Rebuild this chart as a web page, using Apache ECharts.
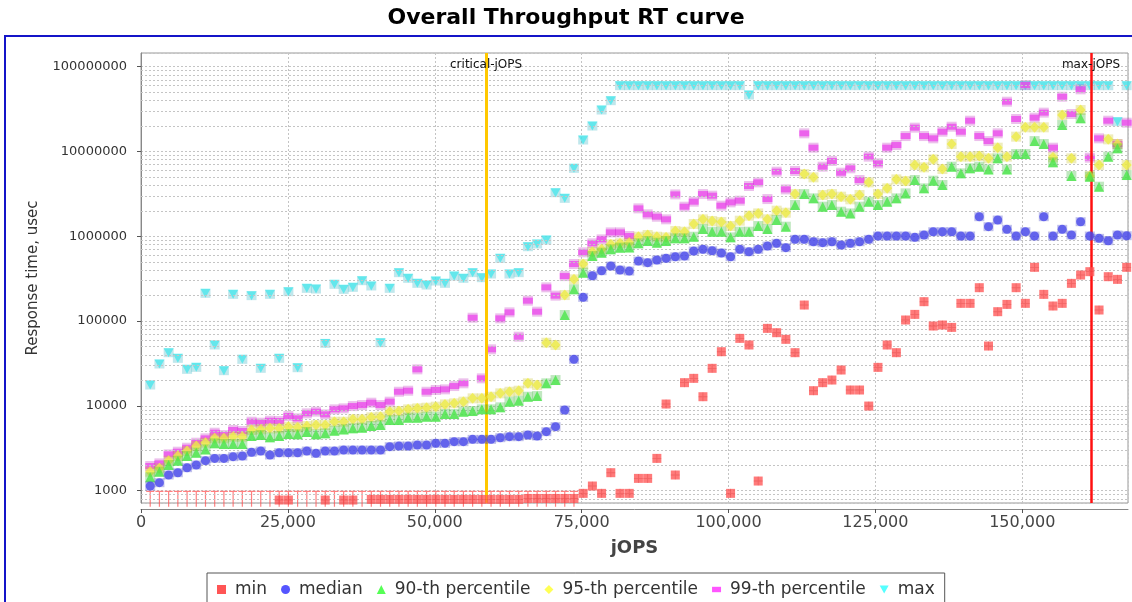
<!DOCTYPE html>
<html><head><meta charset="utf-8">
<script src="https://cdn.jsdelivr.net/npm/echarts@6/dist/echarts.min.js"></script>
<style>html,body{margin:0;padding:0;background:#fff}#c{width:1132px;height:602px}</style>
</head><body><div id="c"></div>
<script>
const jops = [1568,3136,4704,6272,7840,9408,10976,12544,14112,15680,
 17248,18816,20384,21952,23520,25088,26656,28224,29792,31360,
 32928,34496,36064,37632,39200,40768,42336,43904,45472,47040,
 48608,50176,51744,53312,54880,56448,58016,59584,61152,62720,
 64288,65856,67424,68992,70560,72128,73696,75264,76832,78400,
 79968,81536,83104,84672,86240,87808,89376,90944,92512,94080,
 95648,97216,98784,100352,101920,103488,105056,106624,108192,109760,
 111328,112896,114464,116032,117600,119168,120736,122304,123872,125440,
 127008,128576,130144,131712,133280,134848,136416,137984,139552,141120,
 142688,144256,145824,147392,148960,150528,152096,153664,155232,156800,
 158368,159936,161504,163072,164640,166208,167776];

const minRT = [null,null,null,null,null,null,null,null,null,null,
 null,null,null,null,776,776,null,null,null,776,
 null,776,776,null,790,790,790,790,790,790,
 790,790,790,790,790,790,790,790,790,790,
 790,810,810,810,810,810,810,930,1135,930,
 1630,930,930,1397,1397,2405,10520,1531,18790,21130,
 12830,27730,43550,930,62560,52240,1300,82070,72970,60950,
 42410,154600,15110,18790,20180,26490,15390,15390,9954,28470,
 52240,42410,103000,120000,169400,87500,89900,84300,161900,161900,
 247700,50800,129100,157400,247700,161900,430500,206600,150600,161900,
 278600,349100,382600,135100,334000,310500,430500];

const medianRT = [1135,1243,1531,1630,1867,2009,2259,2405,2405,2518,
 2564,2832,2936,2634,2806,2806,2806,2936,2755,2936,
 2936,3017,3017,3017,3017,3017,3303,3364,3364,3456,
 3456,3616,3616,3785,3785,4029,4029,4029,4217,4334,
 4334,4531,4415,4966,5688,8933,35400,190500,342800,392700,
 445700,400000,389000,510500,488700,524800,549500,574100,584800,669900,
 701500,676100,635300,574100,701500,657700,701500,767400,826000,734500,
 920000,920000,863000,841000,863000,788900,826000,863000,920000,1007000,
 1007000,1007000,1007000,971000,1035000,1132000,1132000,1132000,1007000,1007000,
 1702000,1298000,1556000,1208000,1007000,1132000,1007000,1702000,1007000,1208000,
 1035000,1486000,1007000,946000,887000,1035000,1016000];

const p90RT = [1437,1675,2009,2259,2564,2806,3070,3616,3548,3548,
 3548,4415,4531,4256,4415,4660,4616,4920,4616,4742,
 5105,5285,5433,5534,5794,5943,6808,6808,7261,7261,
 7464,7464,8017,8017,8551,8690,9100,9100,9616,11220,
 11510,12830,13070,18450,20180,118000,236600,372400,584800,641200,
 701500,734500,739600,826000,879000,841000,879000,946000,946000,988500,
 1219000,1132000,1132000,971000,1132000,1132000,1321000,1219000,1556000,1298000,
 2339000,3148000,2800000,2234000,2339000,1950000,1862000,2234000,2559000,2339000,
 2559000,2800000,3206000,4613000,3673000,4527000,4025000,6622000,5521000,6324000,
 6622000,6152000,8299000,6152000,9333000,9333000,13270000,12250000,7447000,20510000,
 5140000,24600000,5046000,3846000,8690000,10890000,5273000];

const p95RT = [1675,1834,2259,2564,2936,3364,3682,4141,4141,4334,
 4334,5193,5285,5433,5433,5688,5585,5794,5943,5943,
 6512,6512,6937,6937,7326,7464,8551,8690,9100,9354,
 9528,9795,10420,10720,11220,12270,12270,12830,14060,14690,
 15110,18450,17620,55590,52240,202800,310500,471000,657700,701500,
 803500,826000,841000,988500,1035000,988500,971000,1153000,1132000,1396000,
 1585000,1514000,1472000,1321000,1528000,1750000,1862000,1585000,2004000,1897000,
 3148000,5420000,4955000,3069000,3148000,2931000,2729000,3069000,4325000,3148000,
 3673000,4690000,4484000,6924000,6501000,8072000,6209000,12250000,8690000,8690000,
 8851000,8299000,11090000,8690000,14960000,19270000,19270000,19270000,8531000,26920000,
 8299000,30830000,5140000,6924000,13900000,12250000,6924000];

const p99RT = [1954,2100,2681,2884,3214,3682,4141,4831,4531,5193,
 5058,6512,6339,6683,6637,7590,7129,8166,8551,7943,
 9100,9354,9954,10230,10910,10230,11220,14690,15110,26970,
 14690,15390,15670,17140,18450,109600,21130,46450,107700,126800,
 65460,174100,129100,250000,199500,339600,471000,647100,826000,920000,
 1112000,1112000,1007000,2134000,1815000,1702000,1585000,3119000,2234000,2559000,
 3148000,3013000,2296000,2512000,2630000,3917000,4325000,2748000,5781000,3573000,
 5888000,16370000,11090000,6622000,7727000,5623000,6324000,4613000,8690000,7244000,
 11090000,11910000,15210000,19100000,15210000,14290000,17100000,19590000,17100000,23070000,
 15210000,13270000,16370000,38650000,24150000,60810000,25060000,28710000,11090000,44260000,
 27670000,54050000,8453000,14290000,23070000,12250000,21860000];

const maxRT = [17620,31180,42410,36370,26970,28470,212400,52240,26020,206600,
 35400,199500,27730,206600,36370,222300,28200,243200,238800,54600,
 271000,236600,250000,299500,259300,55590,243200,372400,319100,278600,
 266100,296700,278600,339600,319100,372400,325100,358900,549500,358900,
 372400,753600,810900,903600,3266000,2800000,6324000,13650000,19950000,30830000,
 39720000,59700000,59700000,59700000,59700000,59700000,59700000,59700000,59700000,59700000,
 59700000,59700000,59700000,59700000,59700000,46340000,59700000,59700000,59700000,59700000,
 59700000,59700000,59700000,59700000,59700000,59700000,59700000,59700000,59700000,59700000,
 59700000,59700000,59700000,59700000,59700000,59700000,59700000,59700000,59700000,59700000,
 59700000,59700000,59700000,59700000,59700000,59700000,59700000,59700000,59700000,59700000,
 59700000,59700000,59700000,59700000,59700000,22440000,59700000];

// points whose min response time lies below the axis floor (drawn as floor marks)
const minFloorCount = 47;
const minFloor = 1000;

const criticalJops = 58740;
const maxJops = 161700;

const seriesNames = ['min','median','90-th percentile','95-th percentile','99-th percentile','max'];
const seriesColors = ['#ff5555','#5555ff','#55ff55','#ffff55','#ff55ff','#55ffff'];
const barColors = ['#d03030','#3030c0','#30b030','#c8c020','#c030c0','#30b0c0'];

const FONT = 'DejaVu Sans';
const RECT_FLAT = 'path://M0,0H10V6H0Z';
const TRI_DOWN = 'path://M0,0H10L5,9Z';
const T_MARK = 'path://M0,0H8V1.5H4.6V20H3.4V1.5H0Z';
const VBAR = 'path://M4.5,0H5.5V10H4.5Z';
const PLUS = 'path://M4.5,0H5.5V4.5H10V5.5H5.5V10H4.5V5.5H0V4.5H4.5Z';

function pts(arr){ const out=[]; arr.forEach((v,i)=>{ if(v!=null) out.push([jops[i], v]); }); return out; }

const minorGrid = [];
for (let e = 2; e <= 8; e++) for (let m = 2; m <= 9; m++) {
  const v = m * Math.pow(10, e);
  if (v > 716 && v < 145000000) minorGrid.push({yAxis: v});
}

const chart = echarts.init(document.getElementById('c'), null, {renderer:'canvas'});
const scatterBase = (name, idx, arr, symbol, size, z) => ({
  name, type:'scatter', data: pts(arr), symbol, symbolSize: size, symbolKeepAspect:false,
  itemStyle:{color: seriesColors[idx], opacity:0.78}, z, silent:true
});
const barOverlay = (idx, arr, symbol, size, z) => ({
  name: seriesNames[idx] + ' mark', type:'scatter', data: pts(arr), symbol, symbolSize: size, symbolKeepAspect:false,
  itemStyle:{color: barColors[idx], opacity:0.3}, z, silent:true
});

chart.setOption({
  animation:false,
  backgroundColor:'#fff',
  title:{text:'Overall Throughput RT curve', left:'center', top:7, padding:0,
    textStyle:{fontFamily:FONT, fontSize:22, fontWeight:'bold', color:'#000'}},
  graphic:[{type:'rect', shape:{x:5,y:36,width:1200,height:700}, silent:true, z:-1,
    style:{fill:'none', stroke:'#1414c8', lineWidth:2}}],
  grid:{left:141, right:4, top:53, bottom:99, show:true, borderColor:'#999', borderWidth:1, backgroundColor:'#fff'},
  xAxis:{type:'value', min:0, max:168000, interval:25000, offset:6,
    axisLine:{show:true, lineStyle:{color:'#888'}},
    axisTick:{show:true, length:4, lineStyle:{color:'#555'}},
    axisLabel:{fontFamily:FONT, fontSize:16, color:'#444', margin:6, showMaxLabel:false},
    splitLine:{show:true, lineStyle:{color:'#c4c4c4', type:[2,2]}},
    name:'jOPS', nameLocation:'middle', nameGap:30,
    nameTextStyle:{fontFamily:FONT, fontSize:18, fontWeight:'bold', color:'#444'}},
  yAxis:{type:'log', logBase:10, min:716, max:145000000, offset:6,
    axisLine:{show:true, lineStyle:{color:'#888'}},
    axisTick:{show:true, length:4, lineStyle:{color:'#555'}},
    axisLabel:{fontFamily:FONT, fontSize:13, color:'#333', margin:8, showMinLabel:false, showMaxLabel:false,
      formatter: v => String(Math.round(v))},
    splitLine:{show:true, lineStyle:{color:'#c4c4c4', type:[2,2]}},
    name:'Response time, usec', nameLocation:'middle', nameGap:94,
    nameTextStyle:{fontFamily:FONT, fontSize:15, color:'#333'}},
  legend:{left:207, top:573, orient:'horizontal', itemWidth:9, itemHeight:9, itemGap:14,
    padding:[8,10,12,10], borderColor:'#555', borderWidth:1, backgroundColor:'#fff',
    textStyle:{fontFamily:FONT, fontSize:17, color:'#333', padding:[0,0,0,4]},
    itemStyle:{opacity:1},
    data:[{name:'min', icon:'rect'},{name:'median', icon:'circle'},{name:'90-th percentile', icon:'triangle'},
      {name:'95-th percentile', icon:'diamond'},{name:'99-th percentile', icon:RECT_FLAT},{name:'max', icon:TRI_DOWN}]},
  series:[
    {type:'line', data:[], z:1, silent:true,
      markLine:{silent:true, symbol:'none', label:{show:false}, animation:false,
        lineStyle:{color:'#c4c4c4', type:[2,2], width:1}, data: minorGrid}},
    {name:'minFloor', type:'scatter', data: jops.slice(0, minFloorCount).map(x => [x, minFloor]),
      symbol:T_MARK, symbolSize:[8,16], symbolOffset:[0,8], symbolKeepAspect:false, clip:true, silent:true,
      itemStyle:{color:'#ff5555', opacity:0.75}, z:2},
    scatterBase(seriesNames[5], 5, maxRT, TRI_DOWN, [10,9], 3),
    barOverlay(5, maxRT, VBAR, [10,9], 3.1),
    scatterBase(seriesNames[4], 4, p99RT, RECT_FLAT, [10,6], 4),
    barOverlay(4, p99RT, VBAR, [10,10], 4.1),
    scatterBase(seriesNames[3], 3, p95RT, 'diamond', [10,11], 5),
    barOverlay(3, p95RT, VBAR, [10,10], 5.1),
    scatterBase(seriesNames[2], 2, p90RT, 'triangle', [10,10], 6),
    barOverlay(2, p90RT, VBAR, [10,10], 6.1),
    scatterBase(seriesNames[1], 1, medianRT, 'circle', 9, 7),
    barOverlay(1, medianRT, VBAR, [10,9], 7.1),
    scatterBase(seriesNames[0], 0, minRT, 'rect', 9, 8),
    barOverlay(0, minRT, PLUS, [9,9], 8.1),
    {type:'line', data:[], z:10, silent:true,
      markLine:{silent:true, symbol:'none', label:{show:false}, animation:false,
        data:[{xAxis:criticalJops, lineStyle:{color:'#ffc800', width:3, type:'solid'}},
              {xAxis:maxJops, lineStyle:{color:'#ff1010', width:2.5, type:'solid'}}]},
      markPoint:{silent:true, symbol:'circle', symbolSize:0, animation:false,
        label:{show:true, position:'inside', fontFamily:FONT, fontSize:12, color:'#111'},
        data:[{coord:[criticalJops, 105000000], value:'critical-jOPS', label:{formatter:'critical-jOPS'}},
              {coord:[maxJops, 105000000], value:'max-jOPS', label:{formatter:'max-jOPS'}}]}}
  ]
});
</script></body></html>
